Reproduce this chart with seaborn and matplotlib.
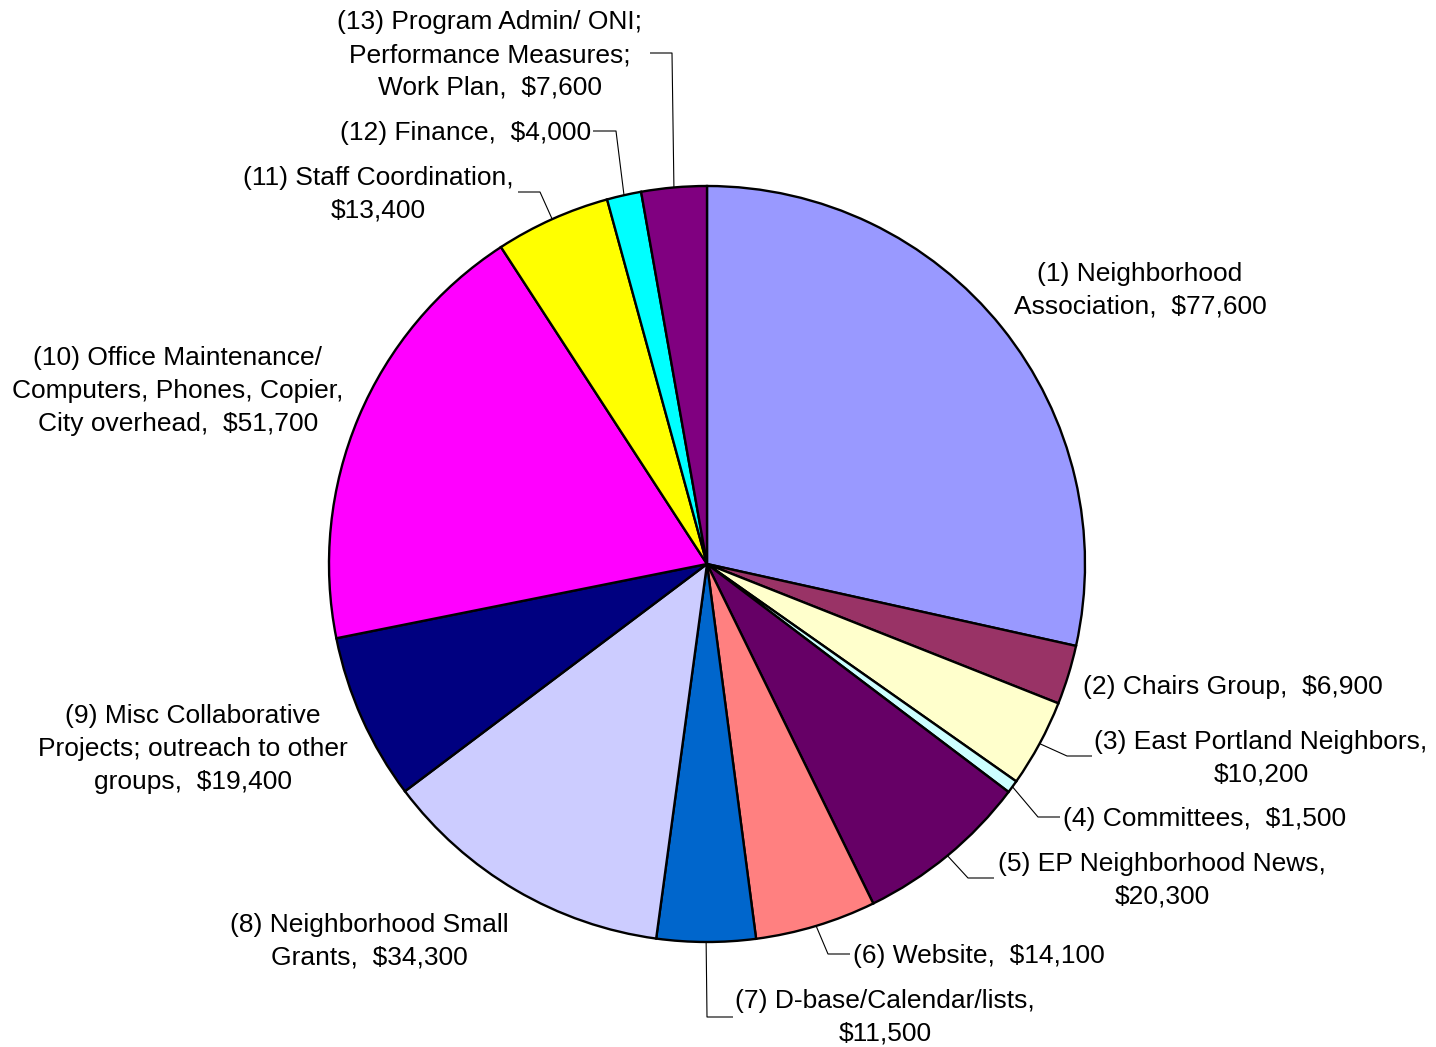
import matplotlib
matplotlib.use("Agg")
import matplotlib.pyplot as plt
import seaborn as sns
import numpy as np

# ---- data ----
categories = [
    "(1) Neighborhood\nAssociation,  $77,600",
    "(2) Chairs Group,  $6,900",
    "(3) East Portland Neighbors,\n$10,200",
    "(4) Committees,  $1,500",
    "(5) EP Neighborhood News,\n$20,300",
    "(6) Website,  $14,100",
    "(7) D-base/Calendar/lists,\n$11,500",
    "(8) Neighborhood Small\nGrants,  $34,300",
    "(9) Misc Collaborative\nProjects; outreach to other\ngroups,  $19,400",
    "(10) Office Maintenance/\nComputers, Phones, Copier,\nCity overhead,  $51,700",
    "(11) Staff Coordination,\n$13,400",
    "(12) Finance,  $4,000",
    "(13) Program Admin/ ONI;\nPerformance Measures;\nWork Plan,  $7,600",
]
values = [77600, 6900, 10200, 1500, 20300, 14100, 11500, 34300, 19400, 51700, 13400, 4000, 7600]
colors = ["#9999FF", "#993366", "#FFFFCC", "#CCFFFF", "#660066", "#FF8080", "#0066CC",
          "#CCCCFF", "#000080", "#FF00FF", "#FFFF00", "#00FFFF", "#800080"]

sns.set_theme(style="white")
plt.rcParams['font.family'] = ['Liberation Sans', 'DejaVu Sans']

W, H = 1436, 1047
CX, CY, R = 707, 564, 378

fig = plt.figure(figsize=(W / 100, H / 100), dpi=100)
ax = fig.add_axes([0, 0, 1, 1])

wedges, _ = ax.pie(values, colors=colors, startangle=90, counterclock=False, radius=1,
                   wedgeprops=dict(edgecolor="black", linewidth=1.7))
ax.set_xlim(-CX / R, (W - CX) / R)
ax.set_ylim(-(H - CY) / R, CY / R)
ax.set_aspect("equal")
ax.axis("off")


def px(x, y):
    return ((x - CX) / R, (CY - y) / R)


# layout: (text anchor pixel, ha, leader path pixels after the wedge edge point or None)
layout = [
    ((1140, 288), "center", None),
    ((1083, 685), "left", None),
    ((1261, 756), "center", [(1067, 756), (1092, 756)]),
    ((1063, 817), "left", [(1038, 817), (1060, 817)]),
    ((1162, 878), "center", [(968, 878), (994, 878)]),
    ((853, 954), "left", [(828, 954), (850, 954)]),
    ((885, 1015), "center", [(707, 1017), (733, 1017)]),
    ((369, 939), "center", None),
    ((193, 747), "center", None),
    ((178, 389), "center", None),
    ((378, 192), "center", [(540, 192), (518, 192)]),
    ((591, 131), "right", [(616, 131), (593, 131)]),
    ((490, 53), "center", [(672, 53), (650, 53)]),
]

for w, lab, (pos, ha, path) in zip(wedges, categories, layout):
    tx, ty = px(pos[0], pos[1] + 2)
    ax.text(tx, ty, lab, ha=ha, va="center", multialignment="center",
            fontsize=19, linespacing=1.46, color="black")
    if path:
        mid = np.deg2rad((w.theta1 + w.theta2) / 2)
        pts = [(np.cos(mid), np.sin(mid))] + [px(*p) for p in path]
        xs, ys = zip(*pts)
        ax.plot(xs, ys, color="black", linewidth=0.8, solid_capstyle="butt")

fig.savefig("out.png", dpi=100)
